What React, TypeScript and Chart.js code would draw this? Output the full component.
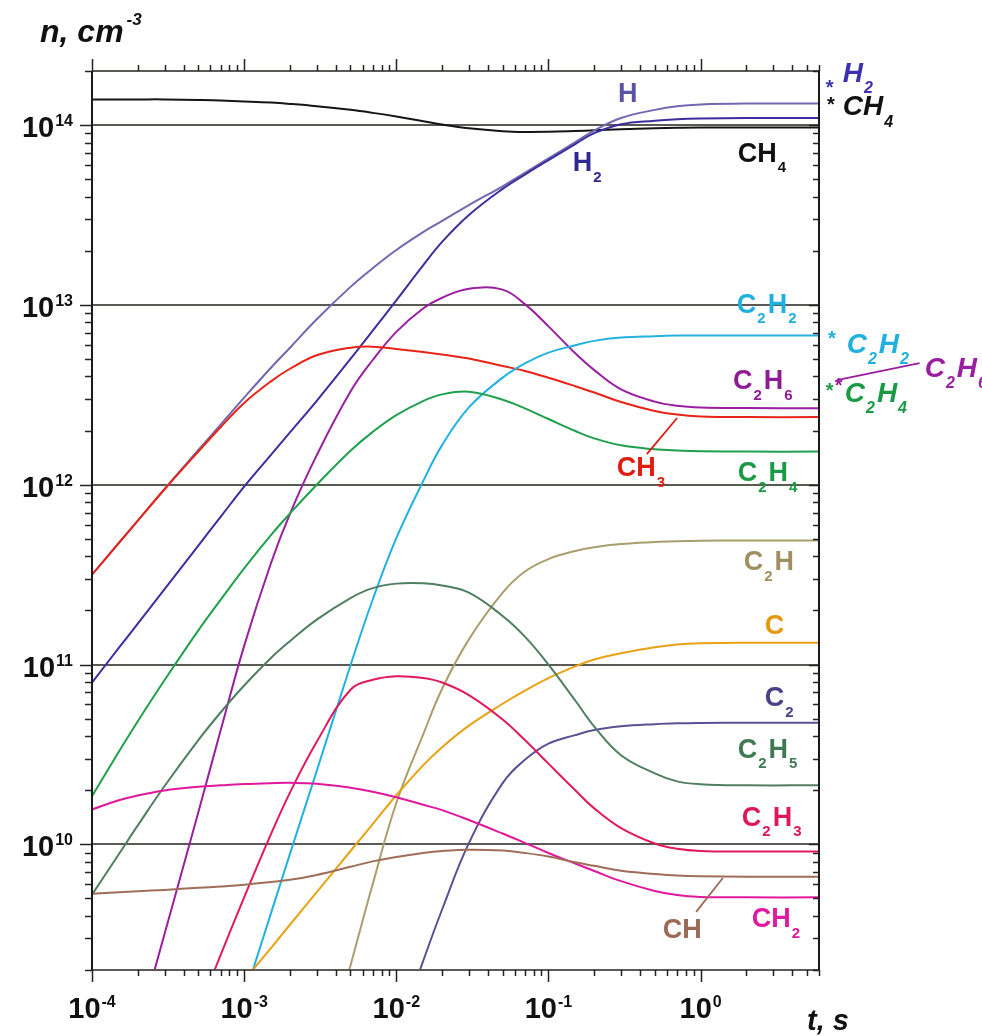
import React, { useEffect, useRef } from "react";
import { Chart, registerables } from "chart.js";

Chart.register(...registerables);

// time grid, s
const T = [1e-4, 1.5e-4, 2e-4, 3e-4, 5e-4, 7e-4, 1e-3, 1.5e-3, 2e-3, 3e-3, 5e-3, 7e-3, 1e-2, 1.5e-2, 2e-2, 3e-2, 5e-2, 7e-2, 0.1, 0.15, 0.2, 0.3, 0.5, 0.7, 1, 2, 6];

// densities, cm^-3
const nCH4 = [1.39e14, 1.39e14, 1.39e14, 1.39e14, 1.38e14, 1.371e14, 1.355e14, 1.334e14, 1.312e14, 1.274e14, 1.216e14, 1.17e14, 1.117e14, 1.052e14, 1.007e14, 9.6e13, 9.25e13, 9.16e13, 9.18e13, 9.27e13, 9.35e13, 9.48e13, 9.6e13, 9.66e13, 9.7e13, 9.7e13, 9.7e13];
const nH = [3.16e11, 4.74e11, 6.31e11, 9.48e11, 1.56e12, 2.16e12, 3.05e12, 4.47e12, 5.78e12, 8.32e12, 1.26e13, 1.6e13, 2.02e13, 2.54e13, 2.93e13, 3.59e13, 4.57e13, 5.43e13, 6.53e13, 8.04e13, 9.33e13, 1.096e14, 1.216e14, 1.274e14, 1.303e14, 1.318e14, 1.318e14];
const nH2 = [7.94e10, 1.236e11, 1.69e11, 2.63e11, 4.59e11, 6.62e11, 9.77e11, 1.466e12, 1.954e12, 2.93e12, 5.01e12, 7.19e12, 1.06e13, 1.66e13, 2.24e13, 3.16e13, 4.42e13, 5.31e13, 6.38e13, 7.85e13, 9.02e13, 1.012e14, 1.059e14, 1.079e14, 1.089e14, 1.096e14, 1.096e14];
const nCH3 = [3.16e11, 4.74e11, 6.31e11, 9.44e11, 1.531e12, 2.089e12, 2.851e12, 3.758e12, 4.416e12, 5.248e12, 5.781e12, 5.861e12, 5.689e12, 5.47e12, 5.297e12, 5.035e12, 4.571e12, 4.295e12, 3.936e12, 3.532e12, 3.258e12, 2.884e12, 2.57e12, 2.455e12, 2.399e12, 2.377e12, 2.377e12];
const nC2H6 = [1.1e8, 3.8e8, 9.2e8, 3.18e9, 1.51e10, 4.29e10, 1.27e11, 3.66e11, 6.89e11, 1.46e12, 3.3e12, 4.94e12, 7.08e12, 9.55e12, 1.096e13, 1.23e13, 1.216e13, 1.01e13, 7.6e12, 5.38e12, 4.34e12, 3.39e12, 2.9e12, 2.75e12, 2.69e12, 2.67e12, 2.66e12];
const nC2H4 = [1.85e10, 3.27e10, 4.84e10, 8.2e10, 1.55e11, 2.29e11, 3.43e11, 5.25e11, 6.92e11, 1.0e12, 1.545e12, 1.968e12, 2.44e12, 2.92e12, 3.18e12, 3.29e12, 2.97e12, 2.66e12, 2.32e12, 1.99e12, 1.81e12, 1.656e12, 1.574e12, 1.549e12, 1.535e12, 1.528e12, 1.528e12];
const nC2H2 = [null, null, null, null, null, 5.5e8, 1.41e9, 4.13e9, 8.85e9, 2.56e10, 9.9e10, 2.3e11, 5.04e11, 1.045e12, 1.66e12, 2.69e12, 3.94e12, 4.73e12, 5.43e12, 5.96e12, 6.31e12, 6.58e12, 6.7e12, 6.75e12, 6.76e12, 6.76e12, 6.76e12];
const nC2H5 = [5.25e9, 8.81e9, 1.274e10, 2.11e10, 3.8e10, 5.41e10, 7.64e10, 1.087e11, 1.349e11, 1.778e11, 2.344e11, 2.661e11, 2.818e11, 2.831e11, 2.754e11, 2.512e11, 1.862e11, 1.429e11, 1.0e11, 6.31e10, 4.52e10, 3.13e10, 2.48e10, 2.24e10, 2.16e10, 2.13e10, 2.13e10];
const nC2H3 = [null, null, null, null, 1.19e9, 2.42e9, 5.07e9, 1.14e10, 1.94e10, 3.72e10, 7.24e10, 8.22e10, 8.61e10, 8.41e10, 7.94e10, 6.76e10, 4.95e10, 3.8e10, 2.81e10, 2.0e10, 1.585e10, 1.23e10, 1.01e10, 9.44e9, 9.18e9, 9.12e9, 9.12e9];
const nCH2 = [1.563e10, 1.758e10, 1.871e10, 1.995e10, 2.089e10, 2.128e10, 2.163e10, 2.188e10, 2.198e10, 2.173e10, 2.065e10, 1.963e10, 1.828e10, 1.66e10, 1.549e10, 1.365e10, 1.148e10, 1.019e10, 8.95e9, 7.82e9, 7.11e9, 6.24e9, 5.5e9, 5.22e9, 5.1e9, 5.07e9, 5.07e9];
const nCH = [5.31e9, 5.41e9, 5.48e9, 5.58e9, 5.73e9, 5.83e9, 5.96e9, 6.17e9, 6.35e9, 6.76e9, 7.5e9, 8.04e9, 8.51e9, 8.95e9, 9.18e9, 9.33e9, 9.23e9, 8.95e9, 8.55e9, 7.94e9, 7.59e9, 7.13e9, 6.84e9, 6.7e9, 6.64e9, 6.61e9, 6.61e9];
const nC2H = [null, null, null, null, null, null, null, null, null, 4.35e8, 2.12e9, 6.01e9, 1.698e10, 4.07e10, 7.33e10, 1.38e11, 2.51e11, 3.29e11, 3.86e11, 4.28e11, 4.49e11, 4.68e11, 4.8e11, 4.85e11, 4.88e11, 4.89e11, 4.89e11];
const nC = [null, null, null, null, null, 1.21e9, 1.75e9, 2.65e9, 3.57e9, 5.42e9, 9.18e9, 1.297e10, 1.875e10, 2.75e10, 3.47e10, 4.57e10, 6.05e10, 7.16e10, 8.41e10, 9.77e10, 1.067e11, 1.156e11, 1.247e11, 1.291e11, 1.312e11, 1.321e11, 1.321e11];
const nC2 = [null, null, null, null, null, null, null, null, null, null, null, null, 8.49e8, 2.24e9, 4.34e9, 1.016e10, 2.19e10, 2.95e10, 3.63e10, 4.05e10, 4.32e10, 4.53e10, 4.66e10, 4.71e10, 4.73e10, 4.74e10, 4.74e10];

const SERIES_NAMES = ["CH", "CH2", "C2H3", "C2H5", "C2", "C", "C2H", "C2H4", "C2H2", "CH3", "C2H6", "H2", "H", "CH4"];
const SERIES_DATA = [nCH, nCH2, nC2H3, nC2H5, nC2, nC, nC2H, nC2H4, nC2H2, nCH3, nC2H6, nH2, nH, nCH4];
const SERIES_COLORS = ["#9e6e58", "#e0189c", "#e01a5c", "#4f7f60", "#5c5094", "#e8a214", "#aa9e6c", "#1fa04c", "#22b2e2", "#e82418", "#9a1fa0", "#3b2e9e", "#7068b0", "#151515"];

// axis ticks
const X_MIN = 1e-4;
const X_MAX = 6;
const Y_MIN = 2e9;
const Y_MAX = 2e14;
const X_DECADES = [-4, -3, -2, -1, 0];
const Y_DECADES = [9, 10, 11, 12, 13, 14];
const X_LABEL_EXP = [-4, -3, -2, -1, 0];
const Y_LABEL_EXP = [10, 11, 12, 13, 14];

// curve labels (left edge t, vertical centre n)
const LABEL_TEXT = ["H", "H2", "CH4", "C2H2", "C2H6", "CH3", "C2H4", "C2H", "C", "C2", "C2H5", "C2H3", "CH", "CH2"];
const LABEL_T = [0.286, 0.1445, 1.755, 1.73, 1.63, 0.281, 1.755, 1.92, 2.64, 2.64, 1.755, 1.865, 0.564, 2.17];
const LABEL_N = [1.53e14, 6.31e13, 7.1e13, 1.026e13, 3.87e12, 1.26e12, 1.19e12, 3.81e11, 1.68e11, 6.68e10, 3.44e10, 1.44e10, 3.43e9, 3.94e9];
const LABEL_COLOR = ["#5a52a4", "#2e2890", "#111111", "#20b0e0", "#8e1b96", "#e01c10", "#1a9a45", "#a09060", "#e39a10", "#4a4088", "#3f7a55", "#e0165a", "#9a6a55", "#e01aa0"];

// leader lines
const LEADERS = [
  { t1: 0.443, n1: 1.48e12, t2: 0.701, n2: 2.35e12, color: "#e01c10" },
  { t1: 0.935, n1: 4.21e9, t2: 1.4, n2: 6.5e9, color: "#9a6a55" },
  { t1: 7.85, n1: 3.82e12, t2: 27.5, n2: 4.75e12, color: "#9a1fa0" },
];

// experimental marks at right (stars) and their italic labels
const EXP_STAR_T = [7.06, 7.17, 7.28, 7.06, 8.09];
const EXP_STAR_N = [1.74e14, 1.4e14, 6.98e12, 3.59e12, 3.82e12];
const EXP_TEXT = ["H2", "CH4", "C2H2", "C2H4", "C2H6"];
const EXP_TEXT_T = [8.59, 8.59, 9.13, 8.86, 29.7];
const EXP_TEXT_N = [1.97e14, 1.29e14, 6.14e12, 3.28e12, 4.52e12];
const EXP_COLOR = ["#3b30b0", "#111111", "#20b0e0", "#1a9a45", "#9a1fa0"];

const FONT = '"Liberation Sans", Arial, Helvetica, sans-serif';
const GRID = "#5a5a52";

function drawChem(ctx: CanvasRenderingContext2D, text: string, x: number, cy: number, size: number, color: string, italic: boolean) {
  const st = italic ? "italic " : "";
  const subSize = Math.round(size * 0.56);
  const base = cy + size * 0.36;
  let cx = x;
  ctx.fillStyle = color;
  ctx.textAlign = "left";
  ctx.textBaseline = "alphabetic";
  for (const ch of text) {
    if (/\d/.test(ch)) {
      ctx.font = `${st}bold ${subSize}px ${FONT}`;
      ctx.fillText(ch, cx + 1, base + size * 0.4);
      cx += ctx.measureText(ch).width + 3;
    } else {
      ctx.font = `${st}bold ${size}px ${FONT}`;
      ctx.fillText(ch, cx, base);
      cx += ctx.measureText(ch).width;
    }
  }
}

function drawPow(ctx: CanvasRenderingContext2D, exp: number, x: number, base: number, align: "right" | "center") {
  ctx.font = `bold 29px ${FONT}`;
  const w1 = ctx.measureText("10").width;
  const e = String(exp);
  ctx.font = `bold 16px ${FONT}`;
  const w2 = ctx.measureText(e).width;
  const total = w1 + 1 + w2;
  const left = align === "right" ? x - total : x - total / 2;
  ctx.fillStyle = "#111";
  ctx.textAlign = "left";
  ctx.textBaseline = "alphabetic";
  ctx.font = `bold 29px ${FONT}`;
  ctx.fillText("10", left, base);
  ctx.font = `bold 16px ${FONT}`;
  ctx.fillText(e, left + w1 + 1, base - 11);
}

function seg(ctx: CanvasRenderingContext2D, x1: number, y1: number, x2: number, y2: number) {
  ctx.beginPath();
  ctx.moveTo(x1, y1);
  ctx.lineTo(x2, y2);
  ctx.stroke();
}

const decorPlugin = {
  id: "decor",
  beforeDatasetsDraw(chart: any) {
    const { ctx, chartArea: a, scales } = chart;
    const y = scales.y;
    ctx.save();
    ctx.strokeStyle = GRID;
    ctx.lineWidth = 2;
    for (const e of Y_LABEL_EXP) {
      const yy = Math.round(y.getPixelForValue(Math.pow(10, e)));
      seg(ctx, a.left, yy, a.right, yy);
    }
    ctx.restore();
  },
  afterDatasetsDraw(chart: any) {
    const { ctx, chartArea: a, scales } = chart;
    const x = scales.x;
    const y = scales.y;
    ctx.save();
    // frame
    ctx.strokeStyle = GRID;
    ctx.lineWidth = 2;
    seg(ctx, a.left, a.top, a.right, a.top);
    seg(ctx, a.left, a.bottom, a.right, a.bottom);
    ctx.strokeStyle = "#1a1a1a";
    seg(ctx, a.left, a.top, a.left, a.bottom);
    seg(ctx, a.right, a.top, a.right, a.bottom);

    // ticks
    ctx.lineWidth = 1.5;
    ctx.strokeStyle = "#222";
    for (const d of X_DECADES) {
      for (let m = 1; m <= 9; m++) {
        const v = m * Math.pow(10, d);
        if (v < X_MIN * 0.999 || v > X_MAX) continue;
        const px = Math.round(x.getPixelForValue(v)) + 0.5;
        const len = m === 1 ? 12 : 6;
        seg(ctx, px, a.top, px, a.top - len);
        seg(ctx, px, a.bottom, px, a.bottom + len);
      }
    }
    for (const d of Y_DECADES) {
      for (let m = 1; m <= 9; m++) {
        const v = m * Math.pow(10, d);
        if (v < Y_MIN * 0.999 || v > Y_MAX * 1.001) continue;
        const py = Math.round(y.getPixelForValue(v)) + 0.5;
        const len = m === 1 ? 12 : 7;
        seg(ctx, a.left, py, a.left - len, py);
        seg(ctx, a.right, py, a.right - (m === 1 ? 10 : 6), py);
      }
    }

    // tick labels
    Y_LABEL_EXP.forEach((e) => {
      const py = y.getPixelForValue(Math.pow(10, e));
      drawPow(ctx, e, a.left - 19, py + 12, "right");
    });
    X_LABEL_EXP.forEach((e) => {
      const px = x.getPixelForValue(Math.pow(10, e));
      drawPow(ctx, e, px, a.bottom + 48, "center");
    });

    // axis titles
    ctx.fillStyle = "#111";
    ctx.textAlign = "left";
    ctx.textBaseline = "alphabetic";
    ctx.font = `italic bold 32px ${FONT}`;
    ctx.fillText("n, cm", 40, 42);
    const wt = ctx.measureText("n, cm").width;
    ctx.font = `italic bold 17px ${FONT}`;
    ctx.fillText("-3", 40 + wt + 3, 25);
    ctx.font = `italic bold 29px ${FONT}`;
    ctx.fillText("t, s", 807, 1030);

    // leader lines
    ctx.lineWidth = 1.8;
    LEADERS.forEach((l) => {
      ctx.strokeStyle = l.color;
      seg(ctx, x.getPixelForValue(l.t1), y.getPixelForValue(l.n1), x.getPixelForValue(l.t2), y.getPixelForValue(l.n2));
    });

    // curve labels
    LABEL_TEXT.forEach((txt, i) => {
      drawChem(ctx, txt, x.getPixelForValue(LABEL_T[i]), y.getPixelForValue(LABEL_N[i]), 27, LABEL_COLOR[i], false);
    });

    // experimental marks
    EXP_STAR_T.forEach((t, i) => {
      ctx.fillStyle = EXP_COLOR[i];
      ctx.font = `bold 20px ${FONT}`;
      ctx.textAlign = "center";
      ctx.textBaseline = "alphabetic";
      ctx.fillText("*", x.getPixelForValue(t), y.getPixelForValue(EXP_STAR_N[i]) + 12);
    });
    EXP_TEXT.forEach((txt, i) => {
      drawChem(ctx, txt, x.getPixelForValue(EXP_TEXT_T[i]), y.getPixelForValue(EXP_TEXT_N[i]), 28, EXP_COLOR[i], true);
    });
    ctx.restore();
  },
};

export default function App() {
  const ref = useRef<HTMLCanvasElement>(null);
  useEffect(() => {
    if (!ref.current) return;
    const chart = new Chart(ref.current, {
      type: "line",
      data: {
        datasets: SERIES_NAMES.map((name, i) => ({
          label: name,
          data: T.map((t, k) => ({ x: t, y: SERIES_DATA[i][k] })),
          borderColor: SERIES_COLORS[i],
          borderWidth: 2,
          pointRadius: 0,
          fill: false,
          tension: 0.4,
        })),
      },
      options: {
        animation: false,
        responsive: false,
        devicePixelRatio: 1,
        events: [],
        layout: { padding: { left: 92, right: 163, top: 71, bottom: 66 } },
        plugins: { legend: { display: false }, tooltip: { enabled: false } },
        scales: {
          x: { type: "logarithmic", min: X_MIN, max: X_MAX, display: false },
          y: { type: "logarithmic", min: Y_MIN, max: Y_MAX, display: false },
        },
      },
      plugins: [decorPlugin],
    } as any);
    return () => chart.destroy();
  }, []);
  return (
    <div style={{ position: "absolute", left: 0, top: 0, width: 982, height: 1036, background: "#fff" }}>
      <canvas ref={ref} width={982} height={1036} style={{ display: "block", width: 982, height: 1036 }} />
    </div>
  );
}
